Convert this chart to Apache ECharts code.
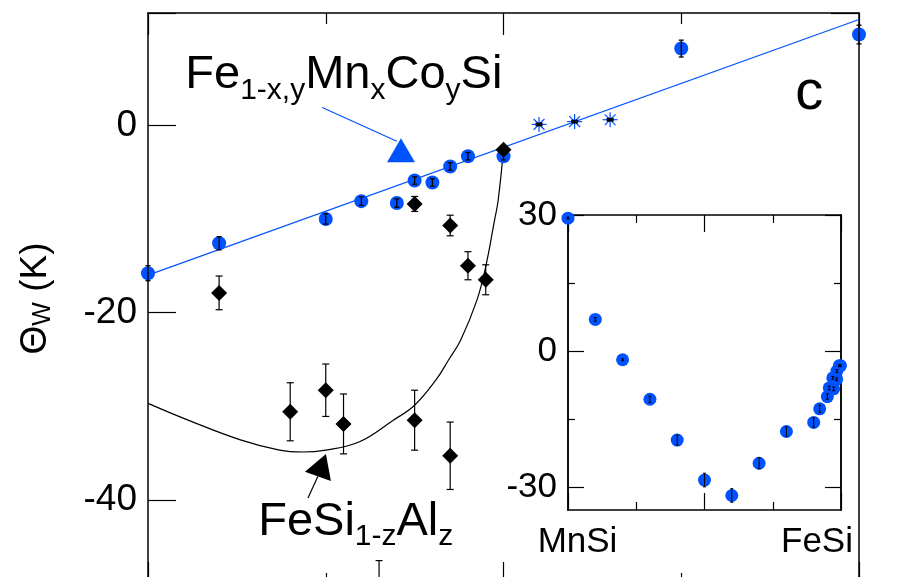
<!DOCTYPE html>
<html>
<head>
<meta charset="utf-8">
<script src="https://cdn.jsdelivr.net/npm/echarts@6/dist/echarts.min.js"></script>
<style>
  html, body { margin: 0; padding: 0; background: #fff; }
  #chart { width: 899px; height: 577px; }
</style>
</head>
<body>
<div id="chart"></div>
<script>
// Fe(1-x,y)Mn(x)Co(y)Si  - blue circles
const feMnCoX = [0, 0.4, 1.0, 1.2, 1.4, 1.5, 1.6, 1.7, 1.8, 2.0, 3.0, 4.0];
const feMnCoY = [-15.8, -12.6, -10.0, -8.1, -8.3, -5.9, -6.1, -4.4, -3.3, -3.3, 8.2, 9.7];
const feMnCoErr = [0.8, 0.7, 0.55, 0.45, 0.45, 0.4, 0.4, 0.4, 0.4, 0.4, 0.9, 1.0];

// asterisks
const starX = [2.2, 2.4, 2.6];
const starY = [0.1, 0.4, 0.6];
const starErr = [0.1, 0.1, 0.1];

// linear fit through the blue points
const fitX = [0, 4];
const fitY = [-16.0, 11.3];

// FeSi(1-z)Al(z) - black diamonds
const alX = [0.4, 0.8, 1.0, 1.1, 1.3, 1.5, 1.5, 1.7, 1.7, 1.8, 1.9, 2.0];
const alY = [-17.9, -30.6, -28.3, -31.9, -50.5, -31.5, -8.4, -35.3, -10.7, -15.0, -16.5, -2.6];
const alErr = [1.8, 3.1, 2.8, 3.2, 4.0, 3.2, 0.8, 3.6, 1.1, 1.5, 1.6, 0.3];

// guide curve for the Al series
const curveX = [0, 0.24, 0.52, 0.74, 0.87, 1.0, 1.19, 1.38, 1.5, 1.62, 1.69, 1.76, 1.85, 1.9, 1.95, 1.97, 2.0];
const curveY = [-29.7, -31.6, -33.6, -34.7, -34.9, -34.7, -33.8, -31.5, -29.9, -27.2, -25.1, -22.9, -18.7, -15.1, -10.1, -8.0, -2.6];

// inset: MnSi -> FeSi
const insetX = [0, 0.1, 0.2, 0.3, 0.4, 0.5, 0.6, 0.7, 0.8, 0.9, 0.922, 0.95, 0.957, 0.973, 0.97, 0.984, 0.985, 0.994, 0.998];
const insetY = [29.3, 7.0, -1.9, -10.6, -19.6, -28.4, -31.8, -24.7, -17.7, -15.7, -12.7, -10.0, -8.1, -8.3, -5.9, -6.2, -4.4, -3.2, -3.2];
const insetErr = [0.2, 0.4, 0.2, 0.7, 1.1, 1.5, 1.5, 1.2, 1.0, 1.0, 0.8, 0.6, 0.4, 0.4, 0.3, 0.3, 0.3, 0.2, 0.2];

const mainYTicks = [-40, -20, 0];
const insetYMajor = [-30, 0, 30];
const insetYMinor = [-15, 15];
const insetXLabels = ['MnSi', 'FeSi'];

// annotation anchors (data coords of main panel)
const feLabelAt = [0.21, 5.4];
const blueArrowLine = [[0.98, 1.9], [1.40, -1.7]];
const blueArrowHead = [[1.423, -1.39], [1.345, -3.95], [1.502, -3.95]];
const alLabelAt = [0.62, -42.4];
const blackArrowLine = [[0.90, -39.8], [0.956, -37.5]];
const blackArrowHead = [[1.001, -35.1], [0.883, -37.0], [1.029, -38.0]];
const panelLabelAt = [3.72, 3.4];

const BLUE = '#0052ff';
const FONT = 'Liberation Sans';

const zip = (xs, ys) => xs.map((x, i) => [x, ys[i]]);
const errRows = (xs, ys, es) => xs.map((x, i) => [x, ys[i] - es[i], ys[i] + es[i]]);

function errorBar(capHalf, width) {
  return function (params, api) {
    const x = api.value(0);
    const lo = api.coord([x, api.value(1)]);
    const hi = api.coord([x, api.value(2)]);
    const style = { stroke: '#000', lineWidth: width };
    return {
      type: 'group',
      children: [
        { type: 'line', shape: { x1: hi[0], y1: hi[1], x2: lo[0], y2: lo[1] }, style },
        { type: 'line', shape: { x1: hi[0] - capHalf, y1: hi[1], x2: hi[0] + capHalf, y2: hi[1] }, style },
        { type: 'line', shape: { x1: lo[0] - capHalf, y1: lo[1], x2: lo[0] + capHalf, y2: lo[1] }, style }
      ]
    };
  };
}

function asterisk(params, api) {
  const c = api.coord([api.value(0), api.value(1)]);
  const r = 7.5, d = r * 0.72;
  const style = { stroke: BLUE, lineWidth: 1.2 };
  const seg = (dx, dy) => ({ type: 'line', shape: { x1: c[0] - dx, y1: c[1] - dy, x2: c[0] + dx, y2: c[1] + dy }, style });
  return { type: 'group', children: [seg(0, r), seg(r, 0), seg(d, d), seg(d, -d)] };
}

const chart = echarts.init(document.getElementById('chart'));

const axLine = { show: true, onZero: false, lineStyle: { color: '#000', width: 1.5 } };
const noSplit = { show: false };

function xAx(grid, pos, max, interval, major, minor) {
  return {
    type: 'value', gridIndex: grid, position: pos, min: 0, max: max, interval: interval,
    axisLine: axLine,
    axisTick: { show: true, inside: true, length: major, lineStyle: { color: '#000', width: 1.2 } },
    minorTick: { show: true, splitNumber: 2, length: minor, lineStyle: { color: '#000', width: 1.2 } },
    axisLabel: { show: false }, splitLine: noSplit, minorSplitLine: noSplit
  };
}

function yAx(grid, pos, min, max, ticks, len, labels, fontSize) {
  return {
    type: 'value', gridIndex: grid, position: pos, min: min, max: max,
    axisLine: axLine,
    axisTick: { show: ticks.length > 0, inside: true, length: len, customValues: ticks, lineStyle: { color: '#000', width: 1.2 } },
    axisLabel: labels
      ? { show: true, customValues: ticks, margin: 11, color: '#000', fontFamily: FONT, fontSize: fontSize }
      : { show: false },
    splitLine: noSplit
  };
}

const mainY = yAx(0, 'left', -49, 12, mainYTicks, 28, true, 37);
mainY.axisTick.customValues = mainYTicks.concat([12]);
mainY.name = '{t|Θ}{w|W}{t| (K)}';
mainY.nameLocation = 'middle';
mainY.nameRotate = 90;
mainY.nameGap = 92;
mainY.nameTextStyle = {
  color: '#000', fontFamily: FONT,
  rich: {
    t: { fontSize: 37, fontFamily: FONT, color: '#000' },
    w: { fontSize: 25, fontFamily: FONT, color: '#000', padding: [16, 0, 0, 0] }
  }
};

chart.setOption({
  backgroundColor: '#fff',
  animation: false,
  grid: [
    { left: 148, top: 13, width: 711, height: 571, outerBoundsMode: 'none' },
    { left: 568, top: 215, width: 273, height: 295, outerBoundsMode: 'none' }
  ],
  xAxis: [
    xAx(0, 'bottom', 4, 2, 22, 11),
    xAx(0, 'top', 4, 2, 22, 11),
    xAx(1, 'bottom', 1, 0.5, 17, 8),
    xAx(1, 'top', 1, 0.5, 17, 8)
  ],
  yAxis: [
    mainY,
    yAx(0, 'right', -49, 12, [12], 28, false),
    yAx(1, 'left', -35, 30, insetYMajor, 16, true, 35),
    yAx(1, 'left', -35, 30, insetYMinor, 7, false),
    yAx(1, 'right', -35, 30, insetYMajor, 16, false),
    yAx(1, 'right', -35, 30, insetYMinor, 7, false)
  ],
  series: [
    {
      type: 'line', xAxisIndex: 0, yAxisIndex: 0, data: zip(fitX, fitY),
      symbol: 'none', lineStyle: { color: BLUE, width: 1.2 }, z: 2
    },
    {
      type: 'line', xAxisIndex: 0, yAxisIndex: 0, data: zip(curveX, curveY),
      symbol: 'none', smooth: 0.4, lineStyle: { color: '#000', width: 1.2 }, z: 2
    },
    {
      type: 'scatter', xAxisIndex: 0, yAxisIndex: 0, data: zip(feMnCoX, feMnCoY),
      symbol: 'circle', symbolSize: 14, itemStyle: { color: BLUE, opacity: 1 }, clip: false, z: 3
    },
    {
      type: 'custom', xAxisIndex: 0, yAxisIndex: 0, data: errRows(feMnCoX, feMnCoY, feMnCoErr),
      encode: { x: 0, y: [1, 2] }, renderItem: errorBar(2.5, 1.3), z: 4
    },
    {
      type: 'custom', xAxisIndex: 0, yAxisIndex: 0, data: errRows(alX, alY, alErr),
      encode: { x: 0, y: [1, 2] }, renderItem: errorBar(3.5, 1.2), z: 4
    },
    {
      type: 'scatter', xAxisIndex: 0, yAxisIndex: 0, data: zip(alX, alY),
      symbol: 'diamond', symbolSize: 16, itemStyle: { color: '#000', opacity: 1 }, z: 5
    },
    {
      type: 'custom', xAxisIndex: 0, yAxisIndex: 0, data: zip(starX, starY),
      encode: { x: 0, y: 1 }, renderItem: asterisk, z: 5
    },
    {
      type: 'custom', xAxisIndex: 0, yAxisIndex: 0, data: errRows(starX, starY, starErr),
      encode: { x: 0, y: [1, 2] }, renderItem: errorBar(3.5, 2), z: 6
    },
    {
      type: 'scatter', xAxisIndex: 2, yAxisIndex: 2, data: zip(insetX, insetY),
      symbol: 'circle', symbolSize: 13, itemStyle: { color: BLUE, opacity: 1 }, clip: false, z: 3
    },
    {
      type: 'custom', xAxisIndex: 2, yAxisIndex: 2, data: errRows(insetX, insetY, insetErr),
      encode: { x: 0, y: [1, 2] }, renderItem: errorBar(1.5, 1), z: 4
    }
  ]
});

function px(pt) { return chart.convertToPixel({ xAxisIndex: 0, yAxisIndex: 0 }, pt); }
function ipx(pt) { return chart.convertToPixel({ xAxisIndex: 2, yAxisIndex: 2 }, pt); }

const richMain = (sub) => ({
  a: { fontSize: 47, fontFamily: FONT, color: '#000' },
  s: { fontSize: 30, fontFamily: FONT, color: '#000', padding: [sub, 0, 0, 0] }
});

const feP = px(feLabelAt);
const alP = px(alLabelAt);
const cP = px(panelLabelAt);
const b1 = px(blueArrowLine[0]), b2 = px(blueArrowLine[1]);
const k1 = px(blackArrowLine[0]), k2 = px(blackArrowLine[1]);
const insetLeftBottom = ipx([0, -35]);
const insetRightBottom = ipx([1, -35]);

chart.setOption({
  graphic: [
    {
      type: 'text', x: feP[0], y: feP[1], z: 10,
      style: { text: '{a|Fe}{s|1-x,y}{a|Mn}{s|x}{a|Co}{s|y}{a|Si}', rich: richMain(32), align: 'left', verticalAlign: 'middle' }
    },
    {
      type: 'text', x: alP[0], y: alP[1], z: 10,
      style: { text: '{a|FeSi}{s|1-z}{a|Al}{s|z}', rich: richMain(30), align: 'left', verticalAlign: 'middle' }
    },
    {
      type: 'text', x: cP[0], y: cP[1], z: 10,
      style: { text: 'c', fontSize: 56, fontFamily: FONT, fill: '#000', align: 'center', verticalAlign: 'middle' }
    },
    { type: 'line', z: 10, shape: { x1: b1[0], y1: b1[1], x2: b2[0], y2: b2[1] }, style: { stroke: BLUE, lineWidth: 1.2 } },
    { type: 'polygon', z: 10, shape: { points: blueArrowHead.map(px) }, style: { fill: BLUE } },
    { type: 'line', z: 10, shape: { x1: k1[0], y1: k1[1], x2: k2[0], y2: k2[1] }, style: { stroke: '#000', lineWidth: 1.2 } },
    { type: 'polygon', z: 10, shape: { points: blackArrowHead.map(px) }, style: { fill: '#000' } },
    {
      type: 'text', x: insetLeftBottom[0] + 9.5, y: insetLeftBottom[1] + 32, z: 10,
      style: { text: insetXLabels[0], fontSize: 35, fontFamily: FONT, fill: '#000', align: 'center', verticalAlign: 'middle' }
    },
    {
      type: 'text', x: insetRightBottom[0] - 24, y: insetRightBottom[1] + 32, z: 10,
      style: { text: insetXLabels[1], fontSize: 35, fontFamily: FONT, fill: '#000', align: 'center', verticalAlign: 'middle' }
    }
  ]
});
</script>
</body>
</html>
